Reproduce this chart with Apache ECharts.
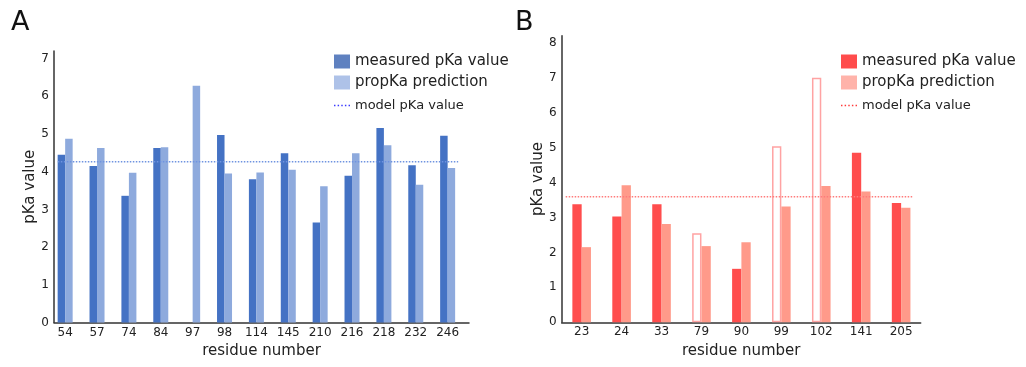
<!DOCTYPE html>
<html>
<head>
<meta charset="utf-8" />
<title>pKa values</title>
<script src="https://cdn.jsdelivr.net/npm/echarts@6/dist/echarts.min.js"></script>
<style>
  html, body { margin: 0; padding: 0; background: #fff; }
  #main { width: 1026px; height: 367px; }
</style>
</head>
<body>
<div id="main"></div>
<script>
// panel A (blue)
var residuesA = ['54', '57', '74', '84', '97', '98', '114', '145', '210', '216', '218', '232', '246'];
var measuredA = [4.45, 4.15, 3.36, 4.63, null, 4.97, 3.80, 4.49, 2.65, 3.89, 5.16, 4.17, 4.95];
var propkaA = [4.87, 4.63, 3.97, 4.65, 6.28, 3.95, 3.98, 4.05, 3.61, 4.49, 4.70, 3.65, 4.10];
var modelA = 4.26;

// panel B (red)
var residuesB = ['23', '24', '33', '79', '90', '99', '102', '141', '205'];
var measuredB = [3.38, 3.03, 3.38, 2.55, 1.53, 5.04, 7.00, 4.85, 3.41];
var propkaB = [2.15, 3.92, 2.81, 2.18, 2.29, 3.31, 3.90, 3.74, 3.28];
var hollowB = [0, 0, 0, 1, 0, 1, 1, 0, 0];
var modelB = 3.59;

var yTicksA = [0, 1, 2, 3, 4, 5, 6, 7];
var yTicksB = [0, 1, 2, 3, 4, 5, 6, 7, 8];

var FONT = 'DejaVu Sans';
var TXT = '#222';
// small row of dots for the "model pKa value" legend entry
var DOTS = 'path://M0,0h1.6v1.6h-1.6zM4,0h1.6v1.6h-1.6zM8,0h1.6v1.6h-1.6zM12,0h1.6v1.6h-1.6zM16,0h1.6v1.6h-1.6z';

function idx(arr) {
  return arr.map(function (_, i) { return i; });
}

function pairs(vals) {
  return vals.map(function (v, i) { return [i, v == null ? '-' : v]; });
}

function xAxisFor(grid, labels, min, max) {
  return {
    type: 'value', gridIndex: grid, min: min, max: max,
    name: 'residue number', nameLocation: 'middle', nameGap: 21,
    nameTextStyle: { fontFamily: FONT, fontSize: 15, color: TXT },
    axisLine: { show: true, onZero: false, lineStyle: { color: '#333', width: 1.5 } },
    axisTick: { show: false },
    splitLine: { show: false },
    axisLabel: {
      customValues: idx(labels), margin: 4,
      fontFamily: FONT, fontSize: 12, color: TXT,
      formatter: function (v) { return labels[Math.round(v)]; }
    }
  };
}

function yAxisFor(grid, ticks, max, gap) {
  return {
    type: 'value', gridIndex: grid, min: 0, max: max,
    name: 'pKa value', nameLocation: 'middle', nameGap: gap,
    nameTextStyle: { fontFamily: FONT, fontSize: 15, color: TXT },
    axisLine: { show: true, onZero: false, lineStyle: { color: '#333', width: 1.5 } },
    axisTick: { show: false },
    splitLine: { show: false },
    axisLabel: { customValues: ticks, margin: 5, fontFamily: FONT, fontSize: 12, color: TXT }
  };
}

var dataMeasuredB = measuredB.map(function (v, i) {
  if (hollowB[i]) {
    return { value: [i, v], itemStyle: { color: '#fff', borderColor: '#FFA3A3', borderWidth: 1.5 } };
  }
  return [i, v];
});

var legendText = { fontFamily: FONT, fontSize: 15, color: TXT };
var legendText2 = { fontFamily: FONT, fontSize: 13, color: TXT };

var option = {
  backgroundColor: '#fff',
  animation: false,
  title: [
    { text: 'A', left: 6, top: 4, textStyle: { fontFamily: FONT, fontSize: 27, fontWeight: 'normal', color: '#111' } },
    { text: 'B', left: 510, top: 4, textStyle: { fontFamily: FONT, fontSize: 27, fontWeight: 'normal', color: '#111' } }
  ],
  grid: [
    { left: 54, top: 51, right: 557, bottom: 44.5 },
    { left: 561.7, top: 35.7, right: 105.3, bottom: 44.7 }
  ],
  xAxis: [
    xAxisFor(0, residuesA, -0.35, 12.67),
    xAxisFor(1, residuesB, -0.5, 8.49)
  ],
  yAxis: [
    yAxisFor(0, yTicksA, 7.2, 16),
    yAxisFor(1, yTicksB, 8.2, 15)
  ],
  legend: [
    {
      orient: 'vertical', left: 329, top: 49, itemWidth: 16, itemHeight: 14, itemGap: 6,
      icon: 'rect', textStyle: legendText, selectedMode: false,
      data: [
        { name: 'measured pKa value', itemStyle: { color: '#5F81C0' } },
        { name: 'propKa prediction', itemStyle: { color: '#AEC2E8' } }
      ]
    },
    {
      left: 329, top: 94, itemWidth: 16, itemHeight: 14, selectedMode: false,
      textStyle: legendText2,
      data: [{ name: 'model pKa value', icon: DOTS, itemStyle: { color: '#3B3BFF', borderWidth: 0 } }]
    },
    {
      orient: 'vertical', left: 836, top: 49, itemWidth: 16, itemHeight: 14, itemGap: 6,
      icon: 'rect', textStyle: legendText, selectedMode: false,
      data: [
        { name: 'measured pKa value ', itemStyle: { color: '#FF4C4C' } },
        { name: 'propKa prediction ', itemStyle: { color: '#FFB3AA' } }
      ]
    },
    {
      left: 836, top: 94, itemWidth: 16, itemHeight: 14, selectedMode: false,
      textStyle: legendText2,
      data: [{ name: 'model pKa value ', icon: DOTS, itemStyle: { color: '#FF3B3B', borderWidth: 0 } }]
    }
  ],
  series: [
    {
      name: 'measured pKa value', type: 'bar', xAxisIndex: 0, yAxisIndex: 0,
      barWidth: 7.5, barGap: '0%', data: pairs(measuredA),
      itemStyle: { color: '#4472C4' }
    },
    {
      name: 'propKa prediction', type: 'bar', xAxisIndex: 0, yAxisIndex: 0,
      barWidth: 7.5, barGap: '0%', data: pairs(propkaA),
      itemStyle: { color: '#8EAADD' }
    },
    {
      name: 'model pKa value', type: 'line', xAxisIndex: 0, yAxisIndex: 0,
      symbol: 'none', data: [[-0.23, modelA], [12.33, modelA]],
      itemStyle: { color: '#3B3BFF' },
      lineStyle: { color: '#6F93E0', width: 1.5, type: 'dotted' }, z: 5
    },
    {
      name: 'measured pKa value ', type: 'bar', xAxisIndex: 1, yAxisIndex: 1,
      barWidth: 9.3, barGap: '0%', data: dataMeasuredB,
      itemStyle: { color: '#FF4D4D' }
    },
    {
      name: 'propKa prediction ', type: 'bar', xAxisIndex: 1, yAxisIndex: 1,
      barWidth: 9.3, barGap: '0%', data: pairs(propkaB),
      itemStyle: { color: '#FF9A8A' }
    },
    {
      name: 'model pKa value ', type: 'line', xAxisIndex: 1, yAxisIndex: 1,
      symbol: 'none', data: [[-0.4, modelB], [8.3, modelB]],
      itemStyle: { color: '#FF3B3B' },
      lineStyle: { color: '#FF7B7B', width: 1.5, type: 'dotted' }, z: 5
    }
  ]
};

var chart = echarts.init(document.getElementById('main'), null, { renderer: 'canvas' });
chart.setOption(option);
</script>
</body>
</html>
